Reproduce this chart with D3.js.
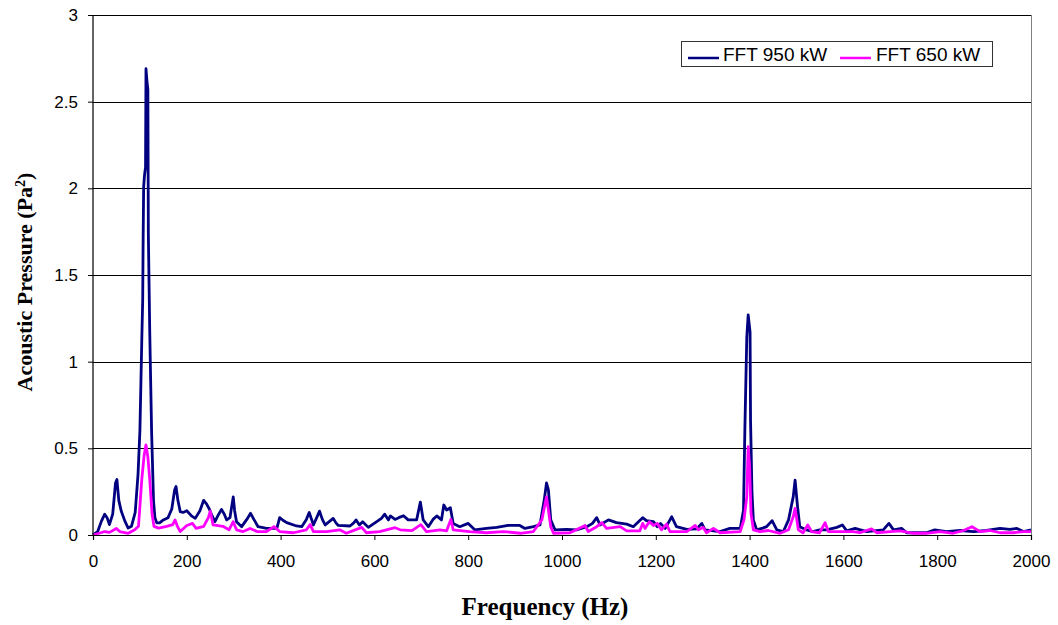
<!DOCTYPE html>
<html>
<head>
<meta charset="utf-8">
<script src="https://cdn.jsdelivr.net/npm/d3@7"></script>
<style>
  html, body { margin: 0; padding: 0; background: #fff; }
  svg { display: block; }
</style>
</head>
<body>
<svg id="chart" width="1058" height="625"></svg>
<script>
// ---- Data ----
const seriesNames = ["FFT 950 kW", "FFT 650 kW"];
const seriesColors = ["#000080", "#FF00FF"];

const freq950 = [0,10,18,25,30,35,42,48,51,55,60,68,75,82,90,96,100,104,106,107,108,110,112,113,115,117,118,121,125,129,132,136,142,150,160,168,174,177,181,186,192,200,210,218,228,236,242,248,254,260,268,274,280,285,292,299,302,306,317,328,336,343,352,370,392,398,405,413,434,445,455,461,466,470,477,483,489,495,505,512,518,523,548,556,561,568,575,587,605,615,622,630,634,644,652,662,672,690,698,704,715,725,733,743,748,754,762,768,782,800,814,839,861,885,910,921,939,953,962,967,971,976,985,1010,1031,1053,1065,1074,1081,1099,1116,1138,1152,1172,1180,1195,1203,1210,1220,1234,1244,1266,1287,1298,1305,1337,1358,1380,1387,1390,1394,1397,1401,1402,1405,1408,1415,1428,1436,1448,1458,1472,1483,1493,1497,1502,1507,1518,1535,1549,1564,1586,1598,1607,1625,1650,1685,1697,1707,1724,1735,1777,1795,1820,1849,1877,1905,1934,1955,1970,1984,2000];
const val950 = [0,0.02,0.08,0.12,0.1,0.06,0.12,0.3,0.32,0.2,0.14,0.08,0.04,0.05,0.13,0.35,0.6,1.12,1.36,1.74,2.01,2.08,2.12,2.69,2.62,2.57,1.74,1.17,0.59,0.2,0.1,0.07,0.07,0.087,0.1,0.15,0.26,0.28,0.2,0.135,0.13,0.14,0.11,0.096,0.14,0.2,0.18,0.15,0.11,0.077,0.12,0.148,0.12,0.087,0.1,0.22,0.14,0.077,0.048,0.09,0.125,0.09,0.048,0.038,0.038,0.1,0.085,0.071,0.052,0.048,0.09,0.13,0.09,0.058,0.1,0.138,0.09,0.058,0.08,0.096,0.07,0.055,0.052,0.07,0.087,0.058,0.077,0.044,0.077,0.096,0.12,0.087,0.11,0.09,0.1,0.111,0.087,0.087,0.19,0.087,0.048,0.09,0.11,0.087,0.173,0.144,0.157,0.067,0.048,0.067,0.03,0.038,0.044,0.055,0.055,0.038,0.048,0.058,0.2,0.3,0.26,0.087,0.03,0.033,0.03,0.048,0.067,0.1,0.058,0.087,0.071,0.063,0.048,0.1,0.083,0.077,0.048,0.067,0.038,0.105,0.048,0.033,0.035,0.067,0.03,0.02,0.038,0.038,0.144,0.625,1.14,1.27,1.17,0.66,0.25,0.087,0.03,0.04,0.048,0.083,0.03,0.02,0.087,0.22,0.317,0.17,0.048,0.033,0.02,0.03,0.03,0.044,0.058,0.024,0.038,0.02,0.03,0.067,0.03,0.038,0.013,0.013,0.03,0.02,0.026,0.02,0.026,0.038,0.033,0.038,0.02,0.03];

const freq650 = [0,13,25,35,50,57,75,89,97,104,109,113,117,121,126,130,140,157,170,175,180,186,200,212,220,236,246,250,256,277,290,299,306,320,335,350,370,386,398,427,455,463,470,498,526,540,573,583,611,644,655,680,699,711,740,754,763,768,803,839,875,911,939,957,967,976,982,1017,1049,1056,1074,1085,1095,1124,1138,1166,1172,1177,1186,1195,1203,1212,1223,1230,1266,1284,1291,1301,1308,1323,1337,1380,1388,1394,1397,1400,1403,1408,1422,1440,1465,1483,1493,1497,1504,1514,1524,1532,1549,1561,1568,1593,1621,1635,1660,1671,1700,1721,1749,1777,1806,1834,1856,1874,1891,1912,1934,1962,1984,2000];
const val650 = [0,0.01,0.02,0.015,0.038,0.02,0.01,0.03,0.05,0.32,0.46,0.52,0.45,0.32,0.12,0.05,0.04,0.05,0.06,0.087,0.05,0.02,0.055,0.067,0.038,0.05,0.1,0.138,0.058,0.05,0.03,0.077,0.03,0.02,0.038,0.02,0.02,0.048,0.02,0.013,0.03,0.06,0.02,0.02,0.03,0.01,0.044,0.013,0.02,0.042,0.03,0.025,0.06,0.02,0.03,0.024,0.09,0.03,0.02,0.013,0.02,0.01,0.02,0.087,0.22,0.048,0.01,0.013,0.055,0.02,0.048,0.071,0.038,0.048,0.024,0.024,0.067,0.038,0.077,0.055,0.067,0.03,0.063,0.02,0.02,0.055,0.03,0.044,0.013,0.038,0.013,0.02,0.087,0.22,0.51,0.4,0.125,0.03,0.02,0.026,0.01,0.03,0.105,0.154,0.03,0.013,0.058,0.02,0.013,0.071,0.02,0.02,0.02,0.013,0.035,0.013,0.02,0.024,0.01,0.01,0.02,0.01,0.026,0.048,0.02,0.026,0.013,0.013,0.02,0.02];

const xTicks = [0,200,400,600,800,1000,1200,1400,1600,1800,2000];
const yTicks = [0,0.5,1,1.5,2,2.5,3];

// ---- Layout ----
const svg = d3.select("#chart");
const margin = {left: 93, top: 15, right: 1058 - 1031, bottom: 625 - 535};
const W = 1058 - margin.left - margin.right;
const H = 625 - margin.top - margin.bottom;

const x = d3.scaleLinear().domain([0, 2000]).range([0, W]);
const y = d3.scaleLinear().domain([0, 3]).range([H, 0]);

const g = svg.append("g").attr("transform", `translate(${margin.left},${margin.top})`);

// gridlines
g.append("g").selectAll("line").data(yTicks.filter(d => d > 0)).join("line")
  .attr("x1", 0).attr("x2", W)
  .attr("y1", d => Math.round(y(d)) + 0.5).attr("y2", d => Math.round(y(d)) + 0.5)
  .attr("stroke", "#000").attr("stroke-width", 1);

// right plot border
g.append("line").attr("x1", W + 0.5).attr("x2", W + 0.5).attr("y1", 0).attr("y2", H)
  .attr("stroke", "#808080").attr("stroke-width", 1);

// lines (950 kW underneath, 650 kW on top)
const series = [
  {name: seriesNames[0], color: seriesColors[0], f: freq950, v: val950},
  {name: seriesNames[1], color: seriesColors[1], f: freq650, v: val650}
];
const line = d3.line().x(d => x(d[0])).y(d => y(d[1]));
series.forEach(s => {
  g.append("path")
    .datum(s.f.map((f, i) => [f, s.v[i]]))
    .attr("fill", "none")
    .attr("stroke", s.color)
    .attr("stroke-width", 2.8)
    .attr("stroke-linejoin", "round")
    .attr("d", line);
});

// axes
const xAxis = d3.axisBottom(x).tickValues(xTicks).tickSize(5).tickPadding(15).tickFormat(d3.format("d"));
const yAxis = d3.axisLeft(y).tickValues(yTicks).tickSize(5).tickPadding(10).tickFormat(d => String(d));

const gx = g.append("g").attr("transform", `translate(0,${H})`).call(xAxis);
const gy = g.append("g").call(yAxis);
[gx, gy].forEach(a => {
  a.select(".domain").attr("stroke", "#000").attr("stroke-width", 1.2);
  a.selectAll(".tick line").attr("stroke", "#000");
  a.selectAll(".tick text").attr("font-family", "Liberation Sans, Arial, sans-serif")
    .attr("font-size", 17).attr("fill", "#000");
});
gy.select(".domain").attr("d", `M-5,0.5H0V${H}`);

// axis titles
svg.append("text")
  .attr("x", 545).attr("y", 615)
  .attr("text-anchor", "middle")
  .attr("font-family", "Liberation Serif, Times New Roman, serif")
  .attr("font-weight", "bold").attr("font-size", 25)
  .text("Frequency (Hz)");

const yt = svg.append("text")
  .attr("transform", "translate(32,282) rotate(-90)")
  .attr("text-anchor", "middle")
  .attr("font-family", "Liberation Serif, Times New Roman, serif")
  .attr("font-weight", "bold").attr("font-size", 22);
yt.append("tspan").text("Acoustic Pressure (Pa");
yt.append("tspan").attr("baseline-shift", "super").attr("font-size", 14).text("2");
yt.append("tspan").text(")");

// legend
const lg = svg.append("g").attr("transform", "translate(681,41)");
lg.append("rect").attr("x", 0.5).attr("y", 0.5).attr("width", 311).attr("height", 25)
  .attr("fill", "#fff").attr("stroke", "#333").attr("stroke-width", 1);
const legendItems = [{x0: 7, tx: 42}, {x0: 159, tx: 195}];
series.forEach((s, i) => {
  const it = legendItems[i];
  lg.append("line").attr("x1", it.x0).attr("x2", it.x0 + 31).attr("y1", 17).attr("y2", 17)
    .attr("stroke", s.color).attr("stroke-width", 2.5);
  lg.append("text").attr("x", it.tx).attr("y", 20)
    .attr("font-family", "Liberation Sans, Arial, sans-serif").attr("font-size", 19)
    .attr("fill", "#000").text(s.name);
});
</script>
</body>
</html>
